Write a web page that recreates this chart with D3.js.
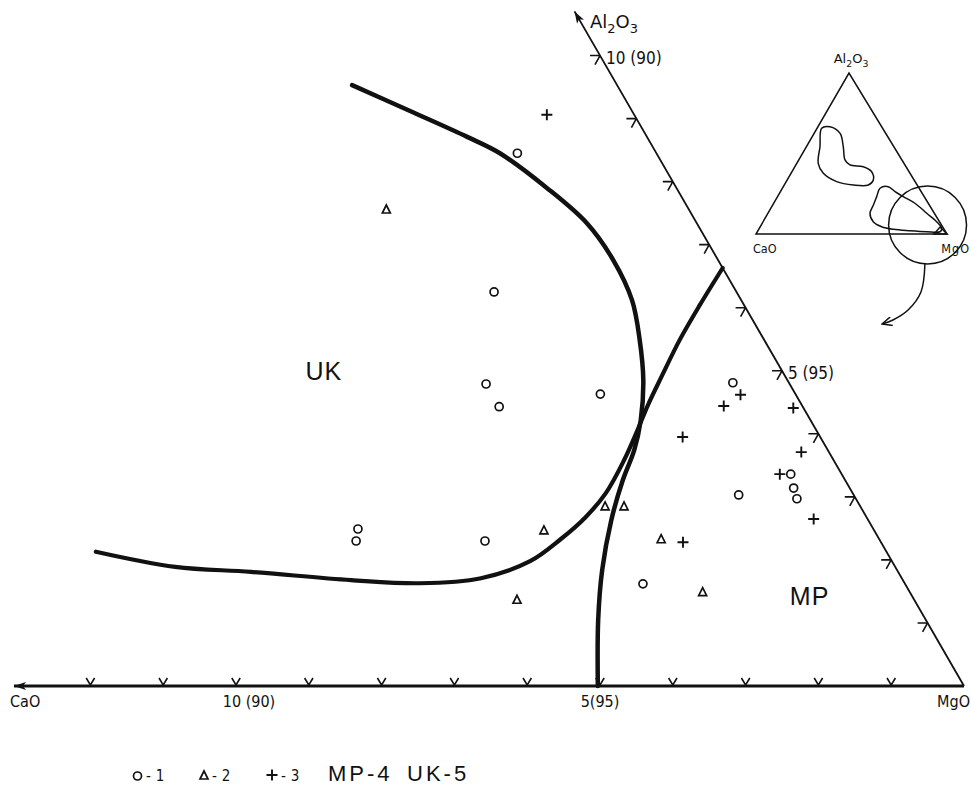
<!DOCTYPE html>
<html>
<head>
<meta charset="utf-8">
<script src="https://cdn.jsdelivr.net/npm/d3@7"></script>
<style>
  html, body { margin: 0; padding: 0; background: #fff; }
  svg { display: block; }
  text { fill: #111; }
</style>
</head>
<body>
<svg id="chart" width="971" height="793"></svg>
<script>
// ---------------- DATA (ternary: CaO %, Al2O3 %; MgO = 100 - CaO - Al2O3) ----------------
const caoTicks = [1, 2, 3, 4, 5, 6, 7, 8, 9, 10, 11, 12];
const al2o3Ticks = [1, 2, 3, 4, 5, 6, 7, 8, 9, 10];
const caoTickLabels = [{ v: 10, t: "10 (90)" }, { v: 5, t: "5(95)" }];
const al2o3TickLabels = [{ v: 10, t: "10 (90)" }, { v: 5, t: "5 (95)" }];

// group 1 (circles)
const group1 = [
  [1.91, 8.45], [3.33, 6.25], [4.17, 4.79], [4.17, 4.43], [2.68, 4.63],
  [7.08, 2.49], [7.20, 2.30], [5.43, 2.30], [3.60, 1.62], [0.77, 4.81],
  [1.58, 3.03], [0.70, 3.36], [0.77, 3.14], [0.81, 2.97]
];
// group 2 (triangles)
const group2 = [
  [4.16, 7.55], [4.54, 2.46], [3.51, 2.84], [3.25, 2.84], [3.00, 2.32],
  [5.46, 1.36], [2.85, 1.48]
];
// group 3 (crosses)
const group3 = [
  [1.20, 9.06], [0.76, 4.62], [1.08, 4.44], [1.89, 3.95], [0.14, 4.41],
  [0.38, 3.71], [0.85, 3.36], [0.74, 2.65], [2.72, 2.28]
];
// boundary of UK field (curve A)
const boundaryUK = [
  [3.64, 9.53], [3.02, 9.10], [2.47, 8.71], [2.15, 8.45], [1.78, 7.90],
  [1.51, 7.34], [1.44, 6.76], [1.50, 6.12], [1.71, 5.49], [1.98, 4.85],
  [2.33, 4.22], [2.66, 3.74], [3.05, 3.27], [3.53, 2.63], [4.05, 1.84],
  [4.50, 1.05], [5.03, 0.00]
];
// boundary of MP field (curve B)
const boundaryMP = [
  [0.00, 6.63], [0.61, 6.04], [1.16, 5.49], [1.68, 4.93], [2.11, 4.46],
  [2.48, 4.03], [2.88, 3.58], [3.39, 3.06], [3.87, 2.67], [4.39, 2.32],
  [4.97, 1.98], [5.78, 1.71], [6.66, 1.63], [7.58, 1.68], [8.89, 1.81],
  [9.89, 1.89], [10.86, 2.13]
];
const fieldLabels = [{ t: "UK", c: 6.62, a: 4.85 }, { t: "MP", c: 1.75, a: 1.285 }];
const legendItems = ["-1", "-2", "-3", "MP-4", "UK-5"];

// inset (full CaO-MgO-Al2O3 triangle), same ternary units
const insetField1 = [
  [31.9, 65.7], [27.1, 66.6], [23.9, 62.5], [26.5, 54.2], [29.8, 46.0],
  [28.8, 42.9], [22.4, 41.8], [19.6, 38.7], [21.4, 33.5], [25.6, 30.4],
  [33.4, 30.4], [41.1, 32.5], [45.4, 37.7], [44.9, 43.9], [38.7, 54.2]
];
const insetField2 = [
  [20.5, 28.4], [15.7, 29.4], [13.7, 26.3], [11.0, 23.2], [7.0, 19.1],
  [4.0, 12.9], [1.5, 7.6], [1.0, 3.5], [2.9, 1.4], [9.9, 1.4], [18.3, 2.0],
  [26.6, 2.9], [31.9, 4.5], [34.7, 7.6], [33.7, 12.9], [29.3, 18.0], [24.9, 23.2]
];
const insetArea = [[0, 0], [6.8, 0], [1.4, 4.3]];
const insetCircle = { c: 7.3, a: 5.6, r: 20.4 };
const insetArrow = [[21.1, -18.6], [32.1, -36.0], [44.6, -47.2], [55.7, -53.4], [62.7, -55.9]];

// ---------------- SCALES ----------------
const svg = d3.select("#chart");
svg.append("rect").attr("width", 971).attr("height", 793).attr("fill", "#fff");

const S3 = Math.sqrt(3) / 2;
const unit = d3.scaleLinear().domain([0, 1]).range([0, 72.8]);     // main diagram, px per %
const X0 = 964, Y0 = 686;                                           // MgO corner
const P = (c, a) => [X0 - unit(c) - unit(a) / 2, Y0 - unit(a) * S3];

const insetBase = d3.scaleLinear().domain([0, 100]).range([947, 756]);
const insetSkew = d3.scaleLinear().domain([0, 100]).range([0, -98]);
const insetH = d3.scaleLinear().domain([0, 100]).range([234, 73]);
const Q = (c, a) => [insetBase(c) + insetSkew(a), insetH(a)];

const ink = "#111";
const defs = svg.append("defs");
defs.append("marker").attr("id", "ah").attr("viewBox", "0 0 12 8")
  .attr("refX", 12).attr("refY", 4).attr("markerWidth", 12).attr("markerHeight", 8)
  .attr("markerUnits", "userSpaceOnUse").attr("orient", "auto")
  .append("path").attr("d", "M0,0 L12,4 L0,8 L3,4 Z").attr("fill", ink);
defs.append("marker").attr("id", "ah2").attr("viewBox", "0 0 12 10")
  .attr("refX", 11).attr("refY", 5).attr("markerWidth", 11).attr("markerHeight", 9)
  .attr("markerUnits", "userSpaceOnUse").attr("orient", "auto")
  .append("path").attr("d", "M0,0 L11,5 L0,10").attr("fill", "none").attr("stroke", ink).attr("stroke-width", 1.6);

// ---------------- AXES ----------------
const g = svg.append("g");
const bA = P(0, 0), bB = P(13.05, 0);
g.append("line").attr("x1", bA[0]).attr("y1", bA[1]).attr("x2", bB[0]).attr("y2", bB[1])
  .attr("stroke", ink).attr("stroke-width", 3).attr("marker-end", "url(#ah)");
const rB = P(0, 10.7);
g.append("line").attr("x1", bA[0]).attr("y1", bA[1]).attr("x2", rB[0]).attr("y2", rB[1])
  .attr("stroke", ink).attr("stroke-width", 1.8).attr("marker-end", "url(#ah)");

caoTicks.forEach(v => {
  const [x, y] = P(v, 0);
  g.append("path").attr("d", `M${x - 4.2},${y - 8} L${x},${y - 1} L${x + 4.2},${y - 8}`)
    .attr("fill", "none").attr("stroke", ink).attr("stroke-width", 1.6);
});
al2o3Ticks.forEach(v => {
  const [x, y] = P(0, v);
  g.append("path").attr("d", `M${x - 10},${y} L${x},${y} M${x},${y} L${x - 5},${y + 9}`)
    .attr("fill", "none").attr("stroke", ink).attr("stroke-width", 1.6);
});

const axFont = "'DejaVu Sans Condensed', 'DejaVu Sans', sans-serif";
const bigFont = "'Liberation Sans', Arial, sans-serif";
caoTickLabels.forEach(d => {
  const [x, y] = P(d.v, 0);
  g.append("text").attr("x", x + (d.v === 10 ? 13 : 0)).attr("y", y + 21)
    .attr("text-anchor", "middle").attr("font-family", axFont).attr("font-size", 16).text(d.t);
});
al2o3TickLabels.forEach(d => {
  const [x, y] = P(0, d.v);
  g.append("text").attr("x", x + 6).attr("y", y + 8)
    .attr("font-family", axFont).attr("font-size", 17).text(d.t);
});
g.append("text").attr("x", 10).attr("y", 707).attr("font-family", axFont).attr("font-size", 16).text("CaO");
g.append("text").attr("x", 970).attr("y", 707).attr("text-anchor", "end").attr("font-family", axFont).attr("font-size", 16).text("MgO");

function chem(sel, x, y, size, anchor) {
  const t = sel.append("text").attr("x", x).attr("y", y).attr("font-family", "'DejaVu Sans', sans-serif")
    .attr("font-size", size).attr("text-anchor", anchor || "start");
  t.append("tspan").text("Al");
  t.append("tspan").attr("dy", size * 0.3).attr("font-size", size * 0.72).text("2");
  t.append("tspan").attr("dy", -size * 0.3).text("O");
  t.append("tspan").attr("dy", size * 0.3).attr("font-size", size * 0.72).text("3");
  return t;
}
chem(g, 590, 28, 18);

// ---------------- BOUNDARIES ----------------
const line = d3.line().x(d => P(d[0], d[1])[0]).y(d => P(d[0], d[1])[1]).curve(d3.curveCatmullRom.alpha(0.5));
g.append("path").attr("d", line(boundaryUK)).attr("fill", "none").attr("stroke", ink)
  .attr("stroke-width", 4.5).attr("stroke-linecap", "round");
g.append("path").attr("d", line(boundaryMP)).attr("fill", "none").attr("stroke", ink)
  .attr("stroke-width", 4.2).attr("stroke-linecap", "round");

// ---------------- POINTS ----------------
const circ = (sel, x, y) => sel.append("circle").attr("cx", x).attr("cy", y).attr("r", 4)
  .attr("fill", "none").attr("stroke", ink).attr("stroke-width", 1.7);
const tri = (sel, x, y) => sel.append("path").attr("d", `M${x},${y - 5} L${x + 4},${y + 3} L${x - 4},${y + 3} Z`)
  .attr("fill", "none").attr("stroke", ink).attr("stroke-width", 1.7);
const plus = (sel, x, y) => sel.append("path").attr("d", `M${x - 5.5},${y} L${x + 5.5},${y} M${x},${y - 5.5} L${x},${y + 5.5}`)
  .attr("fill", "none").attr("stroke", ink).attr("stroke-width", 1.9);

group1.forEach(d => { const [x, y] = P(d[0], d[1]); circ(g, x, y); });
group2.forEach(d => { const [x, y] = P(d[0], d[1]); tri(g, x, y); });
group3.forEach(d => { const [x, y] = P(d[0], d[1]); plus(g, x, y); });

fieldLabels.forEach(d => {
  const [x, y] = P(d.c, d.a);
  g.append("text").attr("x", x).attr("y", y).attr("font-family", bigFont)
    .attr("font-size", 25).attr("letter-spacing", 1).text(d.t);
});

// ---------------- INSET ----------------
const ins = svg.append("g");
const corners = [[0, 0], [100, 0], [0, 100]].map(d => Q(d[0], d[1]));
ins.append("path").attr("d", "M" + corners.map(p => p.join(",")).join("L") + "Z")
  .attr("fill", "none").attr("stroke", ink).attr("stroke-width", 1.5);
const iline = d3.line().x(d => Q(d[0], d[1])[0]).y(d => Q(d[0], d[1])[1]);
ins.append("path").attr("d", iline.curve(d3.curveCatmullRomClosed.alpha(0.5))(insetField1))
  .attr("fill", "none").attr("stroke", ink).attr("stroke-width", 1.5);
ins.append("path").attr("d", iline.curve(d3.curveCatmullRomClosed.alpha(0.5))(insetField2))
  .attr("fill", "none").attr("stroke", ink).attr("stroke-width", 1.5);
ins.append("path").attr("d", iline.curve(d3.curveLinearClosed)(insetArea))
  .attr("fill", "none").attr("stroke", ink).attr("stroke-width", 1.5);
const cc = Q(insetCircle.c, insetCircle.a);
ins.append("circle").attr("cx", cc[0]).attr("cy", cc[1]).attr("r", insetBase(0) - insetBase(insetCircle.r))
  .attr("fill", "none").attr("stroke", ink).attr("stroke-width", 1.5);
ins.append("path").attr("d", iline.curve(d3.curveCatmullRom.alpha(0.5))(insetArrow))
  .attr("fill", "none").attr("stroke", ink).attr("stroke-width", 1.5).attr("marker-end", "url(#ah2)");
chem(ins, Q(0, 100)[0] + 2, Q(0, 100)[1] - 10, 13, "middle");
ins.append("text").attr("x", Q(100, 0)[0] - 3).attr("y", 253).attr("font-family", axFont).attr("font-size", 12.5).text("CaO");
ins.append("text").attr("x", Q(0, 0)[0] + 23).attr("y", 253).attr("text-anchor", "end").attr("font-family", axFont)
  .attr("font-size", 12.5).attr("letter-spacing", 1).text("MgO");

// ---------------- LEGEND ----------------
const lg = svg.append("g");
const ly = 781;
circ(lg, 137.5, ly - 5);
lg.append("text").attr("x", 146).attr("y", ly).attr("font-family", axFont).attr("font-size", 15).attr("letter-spacing", 5).text(legendItems[0]);
tri(lg, 204, ly - 5);
lg.append("text").attr("x", 212).attr("y", ly).attr("font-family", axFont).attr("font-size", 15).attr("letter-spacing", 5).text(legendItems[1]);
plus(lg, 272, ly - 6);
lg.append("text").attr("x", 281).attr("y", ly).attr("font-family", axFont).attr("font-size", 15).attr("letter-spacing", 5).text(legendItems[2]);
lg.append("text").attr("x", 328).attr("y", ly).attr("font-family", bigFont).attr("font-size", 22).attr("letter-spacing", 3).text(legendItems[3]);
lg.append("text").attr("x", 407).attr("y", ly).attr("font-family", bigFont).attr("font-size", 22).attr("letter-spacing", 3).text(legendItems[4]);
</script>
</body>
</html>
